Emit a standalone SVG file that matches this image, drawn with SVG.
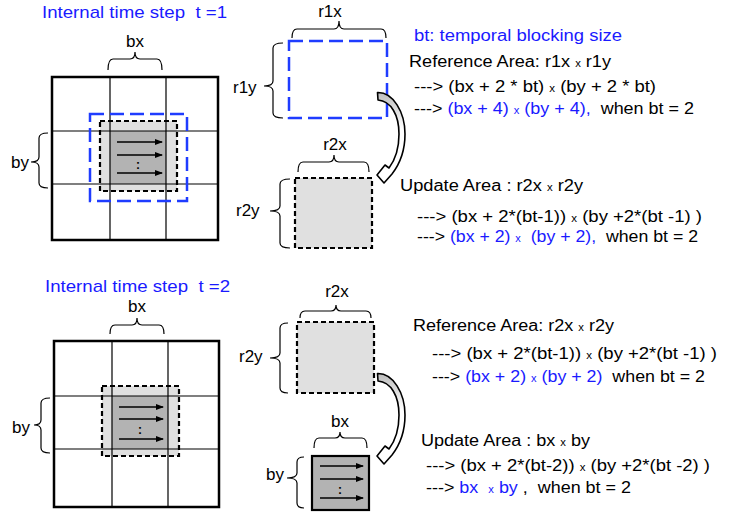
<svg xmlns="http://www.w3.org/2000/svg" width="744" height="512" viewBox="0 0 744 512">
  <style>
    text { font-family: "Liberation Sans", Arial, sans-serif; fill: #000; white-space: pre; }
    .t { font-size: 16px; }
    .lbl { font-size: 17px; }
    .ttl { font-size: 17px; fill: #1a1aff; }
    .blue { fill: #1a1aff; }
    .sm { font-size: 10px; }
    .dots { font-size: 12px; font-weight: bold; }
    .grid-out { fill: #fff; stroke: #000; stroke-width: 2.5; }
    .grid-in { stroke: #000; stroke-width: 1.2; fill: none; }
    .light { fill: #e0e0e0; }
    .dark { fill: #b3b3b3; }
    .bdash { fill: none; stroke: #1f3cff; stroke-width: 2.5; stroke-dasharray: 14 6; }
    .kdash { stroke: #000; stroke-width: 2.2; stroke-dasharray: 5 3; }
    .solid { stroke: #000; stroke-width: 2.2; }
    .brace { fill: none; stroke: #000; stroke-width: 1.2; }
    .flow { stroke: #000; stroke-width: 1.5; marker-end: url(#ah); }
    .bend { fill: url(#bendfill); stroke: #000; stroke-width: 1.6; stroke-linejoin: round; }
  </style>
  <defs>
    <marker id="ah" markerWidth="8" markerHeight="6" refX="7" refY="3" orient="auto" markerUnits="userSpaceOnUse">
      <path d="M0,0 L8,3 L0,6 Z" fill="#000"/>
    </marker>
    <linearGradient id="bendfill" x1="0" y1="0" x2="0" y2="1">
      <stop offset="0" stop-color="#bdbdbd"/>
      <stop offset="0.4" stop-color="#ffffff"/>
    </linearGradient>
    <!-- bent block arrow from a reference area down to its update area -->
    <path id="bent" d="M377.5,92.5 C393,92 405,112 405,134 C405,151 399,165 392,174 L384,183 L377,175 L385,165 L389,168 C395,160 399,148 399,134 C399,115 391,101 378,100 Z"/>
  </defs>

  <!-- ===== time step 1 ===== -->
  <text class="ttl" x="42" y="18" textLength="185" lengthAdjust="spacingAndGlyphs">Internal time step  t =1</text>

  <g id="grid1">
    <rect class="grid-out" x="52" y="77" width="166" height="163"/>
    <rect class="light" x="100" y="121" width="77" height="70"/>
    <rect class="dark" x="110" y="131" width="56" height="53"/>
    <path class="grid-in" d="M110,77 V240 M166,77 V240 M52,131 H218 M52,184 H218"/>
    <rect class="kdash" fill="none" x="100" y="121" width="77" height="70"/>
    <rect class="bdash" x="90" y="114" width="97" height="87"/>
    <text class="lbl" x="135" y="47" text-anchor="middle">bx</text>
    <path class="brace" d="M108,70 Q108,59 113,59 L130,59 Q135,59 135,52 Q135,59 140,59 L157,59 Q162,59 162,70"/>
    <text class="lbl" x="11" y="168">by</text>
    <path class="brace" d="M48,133 Q39,133 39,138 L39,157 Q39,162 31,162 Q39,162 39,167 L39,183 Q39,188 48,188"/>
  </g>

  <g id="ref1">
    <rect class="bdash" x="289" y="41" width="98" height="77"/>
    <text class="lbl" x="330" y="17" text-anchor="middle">r1x</text>
    <path class="brace" d="M292,38 Q292,29 297,29 L334,29 Q339,29 339,21 Q339,29 344,29 L381,29 Q386,29 386,38"/>
    <text class="lbl" x="233" y="93">r1y</text>
    <path class="brace" d="M283,43 Q273,43 273,48 L273,81 Q273,86 264,86 Q273,86 273,91 L273,113 Q273,118 283,118"/>
  </g>

  <g id="upd1">
    <rect class="light kdash" x="295" y="178" width="77" height="70"/>
    <text class="lbl" x="335" y="150" text-anchor="middle">r2x</text>
    <path class="brace" d="M298,172 Q298,162 303,162 L329,162 Q334,162 334,155 Q334,162 339,162 L364,162 Q369,162 369,172"/>
    <text class="lbl" x="236" y="216">r2y</text>
    <path class="brace" d="M290,179 Q280,179 280,184 L280,206 Q280,211 270,211 Q280,211 280,216 L280,243 Q280,248 290,248"/>
  </g>

  <g id="notes1">
    <text class="t blue" x="414" y="41" textLength="208" lengthAdjust="spacingAndGlyphs">bt: temporal blocking size</text>
    <text class="t" x="409" y="67" textLength="202" lengthAdjust="spacingAndGlyphs">Reference Area: r1x <tspan class="sm">x</tspan> r1y</text>
    <text class="t" x="414" y="92" textLength="242" lengthAdjust="spacingAndGlyphs">---&gt; (bx + 2 * bt) <tspan class="sm">x</tspan> (by + 2 * bt)</text>
    <text class="t" x="414" y="114" textLength="280" lengthAdjust="spacingAndGlyphs">---&gt; <tspan class="blue">(bx + 4) <tspan class="sm">x</tspan> (by + 4),</tspan>  when bt = 2</text>
    <text class="t" x="400" y="191" textLength="183" lengthAdjust="spacingAndGlyphs">Update Area : r2x <tspan class="sm">x</tspan> r2y</text>
    <text class="t" x="417" y="222" textLength="285" lengthAdjust="spacingAndGlyphs">---&gt; (bx + 2*(bt-1)) <tspan class="sm">x</tspan> (by +2*(bt -1) )</text>
    <text class="t" x="417" y="242" textLength="281" lengthAdjust="spacingAndGlyphs">---&gt; <tspan class="blue">(bx + 2) <tspan class="sm">x</tspan>  (by + 2),</tspan>  when bt = 2</text>
  </g>

  <!-- ===== time step 2 ===== -->
  <text class="ttl" x="45" y="292" textLength="185" lengthAdjust="spacingAndGlyphs">Internal time step  t =2</text>

  <g id="grid2">
    <rect class="grid-out" x="54" y="341" width="165" height="166"/>
    <rect class="light" x="102" y="386" width="77" height="70"/>
    <rect class="dark" x="112" y="396" width="56" height="53"/>
    <path class="grid-in" d="M112,341 V507 M168,341 V507 M54,396 H219 M54,449 H219"/>
    <rect class="kdash" fill="none" x="102" y="386" width="77" height="70"/>
    <text class="lbl" x="137" y="312" text-anchor="middle">bx</text>
    <path class="brace" d="M110,334 Q110,325 115,325 L132,325 Q137,325 137,318 Q137,325 142,325 L159,325 Q164,325 164,334"/>
    <text class="lbl" x="12" y="433">by</text>
    <path class="brace" d="M50,398 Q41,398 41,403 L41,420 Q41,425 34,425 Q41,425 41,430 L41,448 Q41,453 50,453"/>
  </g>

  <g id="ref2">
    <rect class="light kdash" x="297" y="322" width="77" height="71"/>
    <text class="lbl" x="337" y="297" text-anchor="middle">r2x</text>
    <path class="brace" d="M300,318 Q300,311 305,311 L331,311 Q336,311 336,305 Q336,311 341,311 L366,311 Q371,311 371,318"/>
    <text class="lbl" x="239" y="362">r2y</text>
    <path class="brace" d="M288,323 Q280,323 280,328 L280,353 Q280,358 270,358 Q280,358 280,363 L280,388 Q280,393 288,393"/>
  </g>

  <g id="upd2">
    <rect class="dark solid" x="312" y="456" width="57" height="54"/>
    <text class="lbl" x="340" y="427" text-anchor="middle">bx</text>
    <path class="brace" d="M314,448 Q314,438 319,438 L335,438 Q340,438 340,432 Q340,438 345,438 L362,438 Q367,438 367,448"/>
    <text class="lbl" x="266" y="480">by</text>
    <path class="brace" d="M304,457 Q297,457 297,462 L297,473 Q297,478 287,478 Q297,478 297,483 L297,503 Q297,508 304,508"/>
  </g>

  <g id="notes2">
    <text class="t" x="413" y="331" textLength="201" lengthAdjust="spacingAndGlyphs">Reference Area: r2x <tspan class="sm">x</tspan> r2y</text>
    <text class="t" x="432" y="359" textLength="285" lengthAdjust="spacingAndGlyphs">---&gt; (bx + 2*(bt-1)) <tspan class="sm">x</tspan> (by +2*(bt -1) )</text>
    <text class="t" x="432" y="382" textLength="273" lengthAdjust="spacingAndGlyphs">---&gt; <tspan class="blue">(bx + 2) <tspan class="sm">x</tspan> (by + 2)</tspan>  when bt = 2</text>
    <text class="t" x="421" y="446" textLength="169" lengthAdjust="spacingAndGlyphs">Update Area : bx <tspan class="sm">x</tspan> by</text>
    <text class="t" x="426" y="471" textLength="284" lengthAdjust="spacingAndGlyphs">---&gt; (bx + 2*(bt-2)) <tspan class="sm">x</tspan> (by +2*(bt -2) )</text>
    <text class="t" x="426" y="493" textLength="205" lengthAdjust="spacingAndGlyphs">---&gt; <tspan class="blue">bx  <tspan class="sm">x</tspan> by</tspan> ,  when bt = 2</text>
  </g>

  <!-- ===== connectors: sweep arrows inside blocks and bent transition arrows ===== -->
  <g id="connectors">
    <line class="flow" x1="117" y1="142" x2="162" y2="142"/>
    <line class="flow" x1="117" y1="155" x2="162" y2="155"/>
    <line class="flow" x1="117" y1="173" x2="162" y2="173"/>
    <text class="dots" x="138" y="169" text-anchor="middle">:</text>

    <line class="flow" x1="119" y1="407" x2="163" y2="407"/>
    <line class="flow" x1="119" y1="419" x2="163" y2="419"/>
    <line class="flow" x1="119" y1="439" x2="163" y2="439"/>
    <text class="dots" x="140" y="434" text-anchor="middle">:</text>

    <line class="flow" x1="320" y1="466" x2="363" y2="466"/>
    <line class="flow" x1="320" y1="479" x2="363" y2="479"/>
    <line class="flow" x1="320" y1="498" x2="363" y2="498"/>
    <text class="dots" x="340" y="494" text-anchor="middle">:</text>

    <use href="#bent" class="bend"/>
    <use href="#bent" class="bend" transform="translate(0,281)"/>
  </g>
</svg>
